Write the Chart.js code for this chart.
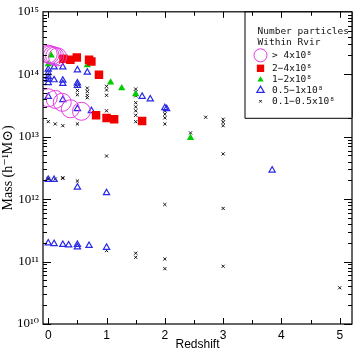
<!DOCTYPE html>
<html><head><meta charset="utf-8">
<script src="https://cdn.jsdelivr.net/npm/chart.js@4/dist/chart.umd.min.js"></script>
<style>html,body{margin:0;padding:0;background:#fff;}#wrap{width:362px;height:352px;position:relative;}</style>
</head><body><div id="wrap"><canvas id="c"></canvas></div>
<script>
// ---- data (redshift, mass in h^-1 Msun) ----
const zOver4 = [0, 0.03, 0.07, 0.11, 0.16, 0, 0.12, 0.24, 0.38, 0.57];
const mOver4 = [2.1e14, 2.05e14, 2.0e14, 1.95e14, 1.9e14, 4.2e13, 3.95e13, 3.55e13, 2.8e13, 2.55e13];

const z2to4 = [0.26, 0.38, 0.49, 0.70, 0.74, 0.87, 0.82, 1.0, 1.13, 1.61];
const m2to4 = [1.77e14, 1.7e14, 1.86e14, 1.7e14, 1.6e14, 9.8e13, 2.2e13, 2.0e13, 1.9e13, 1.78e13];

const z1to2 = [0, 0.05, 0.67, 1.07, 1.26, 1.5, 2.44];
const m1to2 = [1.45e14, 2.0e14, 1.4e14, 7.4e13, 6.0e13, 4.8e13, 9.6e12];

const zHalfTo1 = [0, 0, 0, 0, 0, 0, 0, 0,
  0.1, 0.1, 0.1, 0.1,
  0.25, 0.25, 0.25, 0.25, 0.25,
  0.35,
  0.5, 0.5, 0.5, 0.5, 0.5, 0.5, 0.5,
  0.67, 0.7, 0.74, 1.0, 1.0, 1.61, 1.75, 2.0, 2.03, 3.84];
const mHalfTo1 = [1.2e14, 1.05e14, 9.2e13, 8.2e13, 7.3e13, 4.4e13, 2.05e12, 1.97e11,
  1.3e14, 8.1e13, 2.05e12, 1.93e11,
  1.3e14, 8.0e13, 7.1e13, 3.9e13, 1.87e11,
  1.83e11,
  1.17e14, 7.2e13, 6.6e13, 2.8e13, 1.55e12, 1.87e11, 1.7e11,
  1.07e14, 1.8e11, 2.6e13, 1.26e12, 1.68e11, 4.4e13, 4.0e13, 2.9e13, 2.8e13, 2.9e12];

const zTenthToHalf = [0, 0, 0, 0.12, 0.12, 0.25, 0.25, 0.25,
  0.5, 0.5, 0.5, 0.5, 0.5,
  0.67, 0.67, 0.67, 0.67,
  1.0, 1.0, 1.0, 1.0, 1.0, 1.0,
  1.5, 1.5, 1.5, 1.5, 1.5, 1.5, 1.5, 1.5, 1.5, 1.5,
  2.0, 2.0, 2.0, 2.0, 2.0, 2.0, 2.0,
  2.44, 2.7, 3.0, 3.0, 3.0, 3.0, 3.0, 3.0, 5.0];
const mTenthToHalf = [1.74e13, 2.1e12, 2.15e12, 1.6e13, 2.1e12, 1.5e13, 2.15e12, 2.2e12,
  6.4e13, 5.5e13, 4.7e13, 1.6e13, 1.95e12,
  6.0e13, 5.3e13, 4.6e13, 4.2e13,
  6.4e13, 5.6e13, 4.6e13, 2.6e13, 4.9e12, 1.5e11,
  5.8e13, 5.2e13, 4.5e13, 3.5e13, 3.0e13, 2.6e13, 2.2e13, 1.74e13, 1.36e11, 1.17e11,
  2.6e13, 2.3e13, 2.0e13, 1.6e13, 8.2e11, 1.1e11, 7.7e10,
  1.15e13, 2.05e13, 1.9e13, 1.7e13, 1.5e13, 5.3e12, 7.1e11, 8.4e10, 3.8e10];

const xTickValues = [0, 1, 2, 3, 4, 5];
const yTickExponents = [10, 11, 12, 13, 14, 15];
const legendTitle = ['Number particles', 'Within Rvir'];
const legendLabels = ['> 4x10\u2078', '2\u22124x10\u2078', '1\u22122x10\u2078', '0.5\u22121x10\u2078', '0.1\u22120.5x10\u2078'];
const xTitle = 'Redshift';
const yTitle = 'Mass (h\u207B\u00B9M\u2299)';

// ---- helpers ----
const SUP = {'0':'\u2070','1':'\u00B9','2':'\u00B2','3':'\u00B3','4':'\u2074','5':'\u2075','6':'\u2076','7':'\u2077','8':'\u2078','9':'\u2079','-':'\u207B'};
const sup = s => String(s).split('').map(c => SUP[c] || c).join('');
const pts = (xs, ys) => xs.map((x, i) => ({x: x, y: ys[i]}));

const datasets = [
  {label: legendLabels[0], data: pts(zOver4, mOver4), pointStyle: 'circle', pointRadius: 9,
   borderColor: '#e23ee2', backgroundColor: 'rgba(0,0,0,0)', borderWidth: 1},
  {label: legendLabels[1], data: pts(z2to4, m2to4), pointStyle: 'rect', pointRadius: 6,
   borderColor: '#f20000', backgroundColor: '#f20000', borderWidth: 0},
  {label: legendLabels[2], data: pts(z1to2, m1to2), pointStyle: 'triangle', pointRadius: 4.2,
   borderColor: '#00cc00', backgroundColor: '#00cc00', borderWidth: 0},
  {label: legendLabels[3], data: pts(zHalfTo1, mHalfTo1), pointStyle: 'triangle', pointRadius: 3.6,
   borderColor: '#2828e6', backgroundColor: 'rgba(0,0,0,0)', borderWidth: 1.2},
  {label: legendLabels[4], data: pts(zTenthToHalf, mTenthToHalf), pointStyle: 'crossRot', pointRadius: 2.2,
   borderColor: '#111', backgroundColor: '#111', borderWidth: 1}
];

const LEGEND_FONT = '9.5px "DejaVu Sans Mono", "Liberation Mono", monospace';

const framePlugin = {
  id: 'frame',
  afterDatasetsDraw(chart) {
    const ctx = chart.ctx, a = chart.chartArea;
    const xs = chart.scales.x, ys = chart.scales.y;
    ctx.save();
    ctx.strokeStyle = '#000';
    ctx.lineWidth = 1.2;
    ctx.strokeRect(a.left, a.top, a.right - a.left, a.bottom - a.top);
    ctx.lineWidth = 1;
    ctx.beginPath();
    for (let v = 0; v <= 5.001; v += 0.5) {
      const px = Math.round(xs.getPixelForValue(v)) + 0.5;
      const len = Math.abs(v - Math.round(v)) < 1e-6 ? 6 : 4;
      ctx.moveTo(px, a.bottom); ctx.lineTo(px, a.bottom - len);
      ctx.moveTo(px, a.top); ctx.lineTo(px, a.top + len);
    }
    for (let e = 10; e < 15; e++) {
      for (let k = 1; k <= 9; k++) {
        const py = Math.round(ys.getPixelForValue(k * Math.pow(10, e))) + 0.5;
        const len = k === 1 ? 8 : 4;
        ctx.moveTo(a.left, py); ctx.lineTo(a.left + len, py);
        ctx.moveTo(a.right, py); ctx.lineTo(a.right - len, py);
      }
    }
    ctx.stroke();

    // legend box
    const L = a.right - 107.5, T = a.top, R = a.right, B = a.top + 106;
    ctx.fillStyle = '#fff';
    ctx.fillRect(L, T, R - L, B - T);
    ctx.beginPath();
    ctx.moveTo(L + 0.5, T); ctx.lineTo(L + 0.5, B + 0.5); ctx.lineTo(R, B + 0.5);
    for (let e = 14; e < 15; e++) {
      for (let k = 1; k <= 9; k++) {
        const py = Math.round(ys.getPixelForValue(k * Math.pow(10, e))) + 0.5;
        const len = k === 1 ? 8 : 4;
        ctx.moveTo(a.right, py); ctx.lineTo(a.right - len, py);
      }
    }
    for (let v = 3.5; v <= 5.001; v += 0.5) {
      const px = Math.round(xs.getPixelForValue(v)) + 0.5;
      const len = Math.abs(v - Math.round(v)) < 1e-6 ? 6 : 4;
      ctx.moveTo(px, a.top); ctx.lineTo(px, a.top + len);
    }
    ctx.stroke();
    ctx.lineWidth = 1.2;
    ctx.beginPath();
    ctx.moveTo(a.right, a.top); ctx.lineTo(a.right, B);
    ctx.moveTo(L, a.top); ctx.lineTo(R, a.top);
    ctx.stroke();

    ctx.fillStyle = '#111';
    ctx.font = LEGEND_FONT;
    ctx.textBaseline = 'middle';
    ctx.textAlign = 'left';
    ctx.fillText(legendTitle[0], L + 13, T + 19.5);
    ctx.fillText(legendTitle[1], L + 13, T + 30.5);
    const rowY = [43.5, 56.5, 68, 78.5, 89.5];
    const legendRadius = [6.5, 5.2, 3.6, 4.2, 1.8];
    chart.data.datasets.forEach((ds, i) => {
      const cy = T + rowY[i], cx = L + 16;
      ctx.save();
      ctx.strokeStyle = ds.borderColor;
      ctx.fillStyle = ds.backgroundColor;
      ctx.lineWidth = ds.borderWidth || 0.001;
      Chart.helpers.drawPoint(ctx, {pointStyle: ds.pointStyle, radius: legendRadius[i], rotation: 0, borderWidth: ds.borderWidth}, cx, cy);
      ctx.restore();
      ctx.fillStyle = '#111';
      ctx.font = LEGEND_FONT;
      ctx.textBaseline = 'middle';
      ctx.fillText(ds.label, L + 27.5, cy);
    });
    ctx.restore();
  }
};

new Chart(document.getElementById('c'), {
  type: 'scatter',
  data: {datasets: datasets},
  plugins: [framePlugin],
  options: {
    responsive: true,
    maintainAspectRatio: false,
    animation: false,
    devicePixelRatio: 1,
    layout: {padding: {top: 10, right: 5, left: 0, bottom: 0}},
    plugins: {legend: {display: false}, tooltip: {enabled: false}},
    scales: {
      x: {
        type: 'linear', min: -0.09, max: 5.21,
        afterBuildTicks: s => { s.ticks = xTickValues.map(v => ({value: v})); },
        ticks: {color: '#000', padding: 4, font: {family: '"Liberation Sans", Arial, sans-serif', size: 12},
                callback: v => String(v)},
        grid: {display: false, drawTicks: false},
        border: {display: false},
        title: {display: true, text: xTitle, color: '#000', padding: {top: 0, bottom: 0},
                font: {family: '"Liberation Sans", Arial, sans-serif', size: 12}},
        afterFit: s => { s.height = 28; }
      },
      y: {
        type: 'logarithmic', min: 1e10, max: 1e15,
        afterBuildTicks: s => { s.ticks = yTickExponents.map(e => ({value: Math.pow(10, e)})); },
        ticks: {color: '#000', padding: 4, font: {family: '"Liberation Serif", "DejaVu Serif", serif', size: 13},
                callback: v => '10' + sup(Math.round(Math.log10(v)))},
        grid: {display: false, drawTicks: false},
        border: {display: false},
        title: {display: true, text: yTitle, color: '#000', padding: {top: 0, bottom: 0},
                font: {family: '"Liberation Serif", "DejaVu Serif", serif', size: 14}},
        afterFit: s => { s.width = 43; }
      }
    }
  }
});
</script></body></html>
